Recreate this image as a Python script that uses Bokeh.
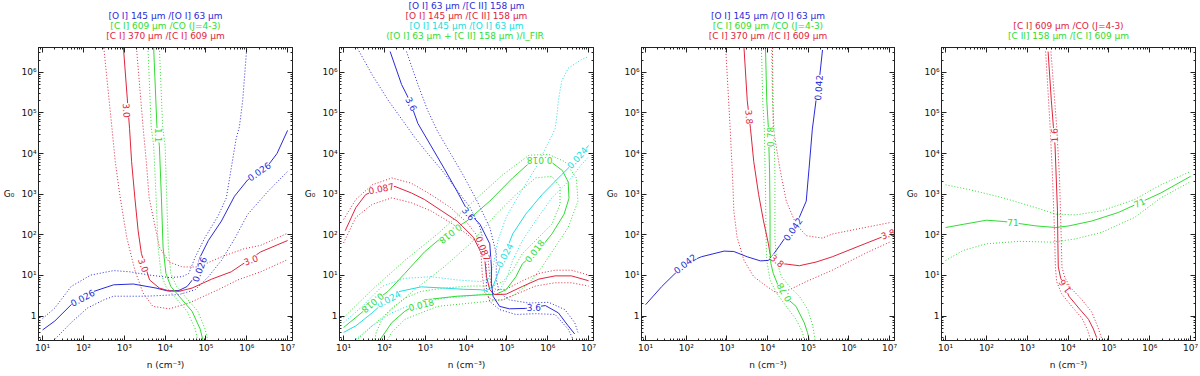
import math
from bokeh.plotting import figure
from bokeh.layouts import row
from bokeh.models import LogAxis, Title, FixedTicker, CustomJSTickFormatter, Range1d
from bokeh.core.properties import value
from bokeh.embed import file_html
from bokeh.resources import INLINE

# ---------------- data (log10 n, log10 G0) ----------------
# Panel 1
p1_blue_n = [1.0, 1.30, 1.70, 1.94, 2.26, 2.74, 3.22, 3.78, 4.06, 4.34, 4.54, 4.70, 4.86, 5.06, 5.38, 5.70, 6.02, 6.50, 6.74, 7.0]
p1_blue_g = [-0.34, -0.12, 0.28, 0.44, 0.61, 0.77, 0.79, 0.69, 0.62, 0.63, 0.73, 0.93, 1.46, 1.86, 2.34, 2.95, 3.35, 3.68, 4.00, 4.57]
p1_blue_up_n = [1.0, 1.30, 1.70, 2.18, 2.74, 3.14, 3.62, 4.10, 4.42, 4.58, 4.74, 4.98, 5.30, 5.50, 5.62, 5.74, 5.82, 5.90, 6.0]
p1_blue_up_g = [-0.06, 0.20, 0.73, 1.01, 1.12, 1.09, 1.01, 0.95, 0.97, 1.05, 1.46, 1.94, 2.47, 2.91, 3.64, 4.37, 4.66, 5.30, 6.6]
p1_blue_lo_n = [1.30, 1.70, 2.10, 2.50, 2.74, 3.54, 4.34, 4.74, 5.06, 5.38, 5.70, 6.02, 6.50, 7.0]
p1_blue_lo_g = [-0.57, -0.16, 0.20, 0.40, 0.49, 0.49, 0.53, 0.65, 0.97, 1.37, 1.90, 2.50, 3.05, 3.56]
p1_red_n = [2.98, 3.13, 3.18, 3.26, 3.34, 3.42, 3.62, 3.86, 4.10, 4.34, 4.66, 5.14, 5.62, 6.34, 7.0]
p1_red_g = [6.60, 4.61, 3.80, 2.91, 2.10, 1.54, 0.89, 0.69, 0.62, 0.61, 0.69, 0.91, 1.09, 1.58, 1.86]
p1_red_a_n = [2.50, 2.70, 2.78, 2.89, 3.06, 3.26, 3.46, 3.70, 4.10, 4.58, 5.30, 5.78, 6.34, 7.0]
p1_red_a_g = [6.60, 4.61, 3.80, 2.99, 1.94, 1.13, 0.57, 0.24, 0.18, 0.32, 0.65, 0.89, 1.09, 1.39]
p1_red_b_n = [3.30, 3.46, 3.54, 3.61, 3.86, 4.10, 4.42, 4.82, 5.38, 5.94, 6.34, 7.0]
p1_red_b_g = [6.60, 4.66, 3.80, 2.91, 1.70, 1.33, 1.21, 1.21, 1.46, 1.66, 1.74, 2.04]
p1_green_n = [3.72, 3.80, 3.86, 3.91, 3.95, 4.02, 4.14, 4.42, 4.66, 4.86, 4.93]
p1_green_g = [6.60, 4.66, 4.20, 2.91, 1.70, 1.05, 0.73, 0.40, 0.12, -0.32, -0.61]
p1_green_l_n = [3.58, 3.66, 3.72, 3.78, 3.83, 3.90, 4.02, 4.30, 4.54, 4.74, 4.80]
p1_green_r_n = [3.86, 3.94, 4.00, 4.04, 4.08, 4.14, 4.28, 4.56, 4.80, 4.98, 5.05]
p1_green_lr_g = [6.60, 4.66, 4.20, 2.91, 1.70, 1.05, 0.73, 0.40, 0.12, -0.32, -0.61]
p1_lab_text = ["0.026", "0.026", "0.026", "3.0", "3.0", "3.0", "1.1"]
p1_lab_n = [1.98, 4.84, 6.30, 3.06, 3.47, 6.10, 3.84]
p1_lab_g = [0.45, 1.15, 3.56, 5.06, 1.25, 1.38, 4.45]
p1_lab_ang = [28, 70, 35, -86, -70, 20, -90]

# Panel 2
p2_blue_n = [2.14, 2.42, 2.62, 2.82, 3.14, 3.46, 3.78, 4.06, 4.34, 4.58, 4.62, 4.62, 4.66, 4.82, 5.06, 5.46, 5.94, 6.26, 6.50, 6.66]
p2_blue_g = [6.51, 5.70, 5.30, 4.74, 4.19, 3.64, 3.07, 2.55, 2.26, 1.78, 1.21, 0.81, 0.49, 0.24, 0.18, 0.19, 0.26, 0.08, -0.24, -0.44]
p2_blue_a_n = [1.34, 1.70, 2.10, 2.50, 2.74, 3.06, 3.40, 3.74, 4.10, 4.34, 4.46, 4.49, 4.50, 4.58, 4.82, 5.22, 5.70, 6.18, 6.50, 6.62]
p2_blue_a_g = [6.59, 5.94, 5.30, 4.74, 4.40, 4.00, 3.60, 3.15, 2.67, 2.18, 1.70, 1.21, 0.65, 0.36, 0.16, 0.04, 0.06, 0.04, -0.32, -0.57]
p2_blue_b_n = [2.54, 2.82, 3.06, 3.30, 3.62, 3.94, 4.26, 4.58, 4.74, 4.74, 4.82, 5.06, 5.54, 6.02, 6.42, 6.66, 6.74]
p2_blue_b_g = [6.51, 5.70, 5.06, 4.55, 4.00, 3.45, 2.85, 2.18, 1.54, 0.89, 0.57, 0.40, 0.32, 0.34, 0.16, -0.16, -0.40]
p2_red_n = [1.04, 1.30, 1.54, 1.90, 2.26, 2.66, 2.98, 3.78, 4.18, 4.46, 4.50, 4.58, 4.70, 4.98, 5.38, 5.78, 6.18, 6.58, 7.0]
p2_red_g = [2.10, 2.67, 2.99, 3.15, 3.19, 3.03, 2.87, 2.34, 1.94, 1.37, 0.97, 0.65, 0.53, 0.54, 0.73, 0.91, 0.99, 0.99, 0.87]
p2_red_a_n = [1.0, 1.30, 1.70, 2.18, 2.66, 3.14, 3.62, 4.02, 4.30, 4.37, 4.40, 4.46, 4.62, 4.90, 5.30, 5.70, 6.18, 6.58, 7.0]
p2_red_a_g = [2.38, 2.87, 3.23, 3.40, 3.27, 2.99, 2.67, 2.30, 1.94, 1.46, 0.97, 0.57, 0.40, 0.40, 0.57, 0.74, 0.82, 0.82, 0.74]
p2_red_b_n = [1.0, 1.30, 1.70, 2.18, 2.66, 3.14, 3.62, 4.02, 4.38, 4.54, 4.58, 4.62, 4.74, 4.98, 5.38, 5.78, 6.18, 6.58, 7.0]
p2_red_b_g = [1.80, 2.43, 2.75, 2.91, 2.79, 2.59, 2.30, 2.02, 1.70, 1.37, 0.97, 0.73, 0.65, 0.66, 0.87, 1.05, 1.13, 1.13, 1.01]
p2_cyan_n = [1.0, 1.30, 1.70, 2.06, 2.34, 2.90, 3.46, 3.94, 4.34, 4.50, 4.66, 4.78, 4.94, 5.14, 5.46, 5.86, 6.34, 6.70, 7.0]
p2_cyan_g = [-0.40, -0.24, 0.08, 0.40, 0.60, 0.72, 0.69, 0.66, 0.65, 0.63, 0.73, 1.05, 1.50, 2.02, 2.51, 2.99, 3.48, 3.84, 4.20]
p2_cyan_a_n = [1.0, 1.46, 1.94, 2.50, 3.14, 3.78, 4.34, 4.54, 4.66, 4.78, 4.98, 5.30, 5.70, 6.02, 6.18, 6.22, 6.26, 6.34, 6.50, 6.82, 7.0]
p2_cyan_a_g = [-0.16, 0.24, 0.73, 0.93, 0.97, 0.89, 0.85, 0.89, 1.21, 1.86, 2.43, 2.99, 3.64, 4.28, 4.61, 4.90, 5.30, 5.78, 6.10, 6.31, 6.39]
p2_cyan_b_n = [1.30, 1.70, 2.18, 2.74, 3.46, 4.10, 4.58, 4.82, 4.98, 5.14, 5.38, 5.70, 6.10, 6.50, 6.82, 7.0]
p2_cyan_b_g = [-0.57, -0.24, 0.08, 0.32, 0.44, 0.50, 0.57, 0.65, 0.89, 1.37, 1.86, 2.34, 2.91, 3.31, 3.72, 3.92]
p2_green_n = [1.0, 1.40, 1.75, 2.10, 2.50, 2.98, 3.50, 4.02, 4.58, 5.14, 5.54, 5.80, 6.10, 6.36, 6.50, 6.52, 6.40, 6.10, 5.80, 5.38, 5.22, 4.98, 4.74, 4.50, 3.78, 2.98, 2.50, 2.18, 1.90]
p2_green_g = [-0.28, 0.05, 0.35, 0.62, 1.05, 1.58, 2.02, 2.34, 2.83, 3.40, 3.76, 3.84, 3.78, 3.58, 3.30, 2.90, 2.51, 2.02, 1.65, 1.29, 0.97, 0.65, 0.54, 0.53, 0.49, 0.40, 0.12, -0.16, -0.57]
p2_green_a_n = [1.0, 1.70, 2.50, 3.30, 4.10, 4.90, 5.54, 6.02, 6.42, 6.70, 6.74, 6.50, 6.18, 5.86, 5.54, 5.22, 4.90, 4.10, 3.30, 2.50, 2.18, 2.06]
p2_green_a_g = [-0.04, 0.65, 1.37, 2.02, 2.75, 3.48, 3.96, 3.98, 3.80, 3.40, 2.83, 2.18, 1.70, 1.21, 0.81, 0.55, 0.40, 0.32, 0.24, -0.08, -0.40, -0.61]
p2_green_b_n = [1.30, 1.70, 2.10, 2.74, 3.46, 4.10, 4.74, 5.22, 5.70, 6.10, 6.30, 6.30, 6.10, 5.70, 5.38, 5.14, 4.90, 4.66, 4.10, 3.46, 2.90, 2.50, 2.18, 1.94, 1.80, 1.76]
p2_green_b_g = [-0.61, -0.24, 0.10, 0.65, 1.21, 1.78, 2.51, 2.99, 3.40, 3.44, 3.19, 2.75, 2.26, 1.86, 1.54, 1.13, 0.85, 0.74, 0.74, 0.69, 0.61, 0.44, 0.20, -0.08, -0.40, -0.61]
p2_lab_text = ["3.6", "3.6", "3.6", "0.087", "0.087", "0.024", "0.024", "0.024", "0.018", "0.018", "0.018", "0.018", "0.018"]
p2_lab_n = [2.66, 4.06, 5.66, 1.92, 4.42, 2.10, 4.94, 6.72, 1.72, 3.62, 5.80, 5.68, 2.90]
p2_lab_g = [5.22, 2.52, 0.22, 3.14, 1.66, 0.42, 1.50, 3.90, 0.32, 2.02, 3.82, 1.60, 0.28]
p2_lab_ang = [-62, -50, 0, 12, -68, 28, 62, 48, 220, 218, 180, 52, 14]

# Panel 3
p3_blue_n = [1.0, 1.40, 1.97, 2.37, 2.93, 3.17, 3.50, 3.82, 4.02, 4.10, 4.30, 4.55, 4.78, 4.95, 4.99, 5.02, 5.10, 5.19, 5.27, 5.35]
p3_blue_g = [0.28, 0.73, 1.29, 1.46, 1.60, 1.59, 1.46, 1.36, 1.37, 1.46, 1.74, 2.10, 2.43, 2.83, 3.30, 3.64, 4.60, 5.30, 5.80, 6.55]
p3_red_n = [3.42, 3.50, 3.58, 3.66, 3.78, 3.90, 4.02, 4.06, 4.10, 4.38, 4.78, 5.19, 5.59, 6.39, 7.0]
p3_red_g = [6.60, 5.30, 4.61, 3.80, 2.99, 2.34, 1.78, 1.54, 1.41, 1.29, 1.24, 1.33, 1.46, 1.78, 2.02]
p3_red_a_n = [2.97, 3.08, 3.14, 3.17, 3.25, 3.42, 3.66, 3.98, 4.22, 4.54, 4.95, 5.59, 6.39, 7.0]
p3_red_a_g = [6.60, 4.61, 3.40, 2.59, 1.94, 1.37, 0.97, 0.73, 0.57, 0.65, 0.85, 1.13, 1.54, 1.82]
p3_red_b_n = [4.12, 4.14, 4.30, 4.46, 4.70, 4.95, 5.35, 5.59, 6.39, 7.0]
p3_red_b_g = [6.60, 4.61, 3.64, 2.83, 2.26, 1.98, 1.92, 2.02, 2.18, 2.30]
p3_green_n = [3.95, 3.98, 4.02, 4.05, 4.06, 4.06, 4.08, 4.14, 4.30, 4.46, 4.70, 4.90, 4.98, 5.03]
p3_green_g = [6.55, 5.30, 4.61, 3.50, 2.50, 1.60, 1.30, 1.05, 0.65, 0.45, 0.24, -0.16, -0.40, -0.61]
p3_green_l_n = [3.85, 3.88, 3.92, 3.94, 3.95, 3.96, 3.98, 4.06, 4.22, 4.46, 4.70, 4.86, 4.90]
p3_green_l_g = [6.55, 5.30, 4.61, 3.50, 2.99, 1.94, 1.37, 0.89, 0.57, 0.24, -0.08, -0.40, -0.61]
p3_green_r_n = [4.10, 4.12, 4.16, 4.18, 4.18, 4.18, 4.22, 4.34, 4.54, 4.78, 4.99, 5.11, 5.17]
p3_green_r_g = [6.55, 5.30, 4.61, 3.50, 2.99, 1.94, 1.37, 0.97, 0.73, 0.49, 0.16, -0.24, -0.61]
p3_best_n = [4.09]
p3_best_g = [1.42]
p3_lab_text = ["0.042", "0.042", "0.042", "3.8", "3.8", "3.8", "0.78", "0.78"]
p3_lab_n = [1.97, 4.62, 5.25, 3.55, 4.24, 6.96, 4.08, 4.40]
p3_lab_g = [1.29, 2.14, 5.62, 4.90, 1.36, 2.02, 4.41, 0.58]
p3_lab_ang = [38, 55, 86, -86, -40, 20, 90, 120]

# Panel 4
p4_red_n = [3.51, 3.59, 3.64, 3.68, 3.71, 3.74, 3.75, 3.76, 3.82, 3.92, 4.02, 4.26, 4.50, 4.62, 4.70]
p4_red_g = [6.51, 5.30, 4.66, 4.20, 3.40, 2.59, 1.78, 1.21, 0.93, 0.73, 0.49, 0.20, -0.08, -0.32, -0.53]
p4_red_l_n = [3.45, 3.56, 3.62, 3.67, 3.69, 3.72, 3.84, 4.08, 4.34, 4.48, 4.56]
p4_red_l_g = [6.51, 4.66, 3.40, 2.00, 1.20, 0.85, 0.55, 0.25, -0.05, -0.35, -0.61]
p4_red_r_n = [3.58, 3.72, 3.79, 3.83, 3.85, 3.92, 4.06, 4.34, 4.58, 4.74, 4.84]
p4_red_r_g = [6.51, 4.66, 3.40, 2.00, 1.20, 0.95, 0.70, 0.40, 0.10, -0.30, -0.61]
p4_green_n = [1.0, 1.44, 2.0, 2.41, 2.65, 3.21, 3.70, 4.02, 4.58, 5.23, 5.75, 6.27, 7.0]
p4_green_g = [2.18, 2.26, 2.36, 2.33, 2.30, 2.22, 2.18, 2.22, 2.34, 2.55, 2.79, 3.03, 3.44]
p4_green_u_n = [1.0, 1.60, 2.41, 3.21, 3.70, 4.18, 4.82, 5.63, 6.27, 7.0]
p4_green_u_g = [3.23, 3.11, 2.91, 2.67, 2.51, 2.49, 2.59, 2.87, 3.23, 3.56]
p4_green_l_n = [1.0, 1.44, 2.0, 2.81, 3.62, 4.18, 4.82, 5.63, 6.27, 7.0]
p4_green_l_g = [1.37, 1.62, 1.78, 1.84, 1.82, 1.90, 2.06, 2.43, 2.91, 3.31]
p4_lab_text = ["1.6", "1.6", "71", "71"]
p4_lab_n = [3.66, 3.92, 2.65, 5.75]
p4_lab_g = [4.45, 0.73, 2.30, 2.79]
p4_lab_ang = [92, 125, 0, 25]

# titles (top line first)
t1 = ["[O I] 145 μm /[O I] 63 μm", "[C I] 609 μm /CO (J=4-3)", "[C I] 370 μm /[C I] 609 μm"]
t2 = ["[O I] 63 μm /[C II] 158 μm", "[O I] 145 μm /[C II] 158 μm", "[O I] 145 μm /[O I] 63 μm",
      "([O I] 63 μm  + [C II] 158 μm )/I_FIR"]
t4 = ["[C I] 609 μm /CO (J=4-3)", "[C II] 158 μm /[C I] 609 μm"]

# ---------------- styling ----------------
BLUE = "#2a2ad8"
RED = "#e0243c"
GREEN = "#30dc30"
CYAN = "#20dede"
FONT = "DejaVu Sans"
H = 372

def L(a):
    return [10.0 ** v for v in a]

SUP = """
const e = Math.round(Math.log10(tick));
if (e === 0) return "1";
const s = {"0":"\u2070","1":"\u00b9","2":"\u00b2","3":"\u00b3","4":"\u2074","5":"\u2075","6":"\u2076","7":"\u2077","8":"\u2078","9":"\u2079","-":"\u207b"};
return "10" + String(e).split("").map(c => s[c]).join("");
"""

def ticker(lo, hi):
    return FixedTicker(ticks=[10.0 ** k for k in range(lo, hi + 1)],
                       minor_ticks=[m * 10.0 ** k for k in range(lo - 1, hi + 1) for m in range(2, 10)])

def style_axis(ax, labels=True):
    ax.major_tick_in = 5
    ax.major_tick_out = 0
    ax.minor_tick_in = 2
    ax.minor_tick_out = 0
    ax.axis_line_color = "#222222"
    ax.major_tick_line_color = "#222222"
    ax.minor_tick_line_color = "#222222"
    ax.major_label_text_font = FONT
    ax.major_label_text_font_size = "9px"
    ax.major_label_text_color = "#111111"
    ax.major_label_standoff = 2
    ax.axis_label_text_font = FONT
    ax.axis_label_text_font_size = "9px"
    ax.axis_label_text_font_style = "normal"
    ax.axis_label_text_color = "#111111"
    ax.axis_label_standoff = 4
    if labels:
        ax.formatter = CustomJSTickFormatter(code=SUP)
    else:
        ax.formatter = CustomJSTickFormatter(code="return '';")

def make_panel(solid, dotted, labels, titles, width, mbl, mbr, best=None):
    p = figure(width=width, height=H, x_axis_type="log", y_axis_type="log",
               x_range=Range1d(10 ** 0.9, 10 ** 7.12), y_range=Range1d(10 ** -0.6, 10 ** 6.61),
               output_backend="svg", toolbar_location=None,
               min_border_left=mbl, min_border_right=mbr, min_border_top=46, min_border_bottom=27,
               background_fill_color="white", border_fill_color="white")
    p.outline_line_color = "#222222"
    p.xgrid.visible = False
    p.ygrid.visible = False
    xa = p.xaxis[0]
    ya = p.yaxis[0]
    xa.ticker = ticker(1, 7)
    ya.ticker = ticker(0, 6)
    style_axis(xa)
    style_axis(ya)
    xa.axis_label = "n (cm\u207b\u00b3)"
    ya.axis_label = "G\u2080"
    ya.axis_label_orientation = "horizontal"
    top = LogAxis(ticker=ticker(1, 7))
    right = LogAxis(ticker=ticker(0, 6))
    style_axis(top, labels=False)
    style_axis(right, labels=False)
    top.major_label_standoff = 0
    right.major_label_standoff = 0
    top.axis_label_standoff = 0
    right.axis_label_standoff = 0
    p.add_layout(top, "above")
    p.add_layout(right, "right")

    for n, g, c in dotted:
        p.line(L(n), L(g), line_color=c, line_width=1, line_dash="1 2")
    for n, g, c in solid:
        p.line(L(n), L(g), line_color=c, line_width=1)
    if best is not None:
        p.scatter(L(best[0]), L(best[1]), marker="x", size=5, line_color="#222222", line_width=1)
    for texts, n, g, ang, c in labels:
        p.text(x=L(n), y=L(g), text=texts, angle=ang, angle_units="deg",
               text_color=c, text_font=value(FONT), text_font_size=value("9px"),
               text_align="center", text_baseline="middle",
               background_fill_color="white")

    # small gap between the frame and the lowest title line
    p.add_layout(Title(text=" ", text_font_size="4px", standoff=0), "above")
    # stack title lines outward from the frame: bottom line first
    for txt, col in reversed(titles):
        p.add_layout(Title(text=txt, text_color=col, text_font=FONT, text_font_size="9px",
                           text_font_style="normal", align="center", vertical_align="middle",
                           standoff=-2.3), "above")
    return p

def split_labels(texts, n, g, ang, colors):
    groups = {}
    for t, a, b, an, c in zip(texts, n, g, ang, colors):
        groups.setdefault(c, [[], [], [], []])
        groups[c][0].append(t); groups[c][1].append(a); groups[c][2].append(b); groups[c][3].append(an)
    return [(v[0], v[1], v[2], v[3], c) for c, v in groups.items()]

p1 = make_panel(
    solid=[(p1_blue_n, p1_blue_g, BLUE), (p1_red_n, p1_red_g, RED), (p1_green_n, p1_green_g, GREEN)],
    dotted=[(p1_blue_up_n, p1_blue_up_g, BLUE), (p1_blue_lo_n, p1_blue_lo_g, BLUE),
            (p1_red_a_n, p1_red_a_g, RED), (p1_red_b_n, p1_red_b_g, RED),
            (p1_green_l_n, p1_green_lr_g, GREEN), (p1_green_r_n, p1_green_lr_g, GREEN)],
    labels=split_labels(p1_lab_text, p1_lab_n, p1_lab_g, p1_lab_ang,
                        [BLUE, BLUE, BLUE, RED, RED, RED, GREEN]),
    titles=list(zip(t1, [BLUE, GREEN, RED])), width=301, mbl=33, mbr=9)

p2 = make_panel(
    solid=[(p2_green_n, p2_green_g, GREEN), (p2_cyan_n, p2_cyan_g, CYAN),
           (p2_red_n, p2_red_g, RED), (p2_blue_n, p2_blue_g, BLUE)],
    dotted=[(p2_green_a_n, p2_green_a_g, GREEN), (p2_green_b_n, p2_green_b_g, GREEN),
            (p2_cyan_a_n, p2_cyan_a_g, CYAN), (p2_cyan_b_n, p2_cyan_b_g, CYAN),
            (p2_red_a_n, p2_red_a_g, RED), (p2_red_b_n, p2_red_b_g, RED),
            (p2_blue_a_n, p2_blue_a_g, BLUE), (p2_blue_b_n, p2_blue_b_g, BLUE)],
    labels=split_labels(p2_lab_text, p2_lab_n, p2_lab_g, p2_lab_ang,
                        [BLUE] * 3 + [RED] * 2 + [CYAN] * 3 + [GREEN] * 5),
    titles=list(zip(t2, [BLUE, RED, CYAN, GREEN])), width=302, mbl=33, mbr=10)

p3 = make_panel(
    solid=[(p3_blue_n, p3_blue_g, BLUE), (p3_red_n, p3_red_g, RED), (p3_green_n, p3_green_g, GREEN)],
    dotted=[(p3_red_a_n, p3_red_a_g, RED), (p3_red_b_n, p3_red_b_g, RED),
            (p3_green_l_n, p3_green_l_g, GREEN), (p3_green_r_n, p3_green_r_g, GREEN)],
    labels=split_labels(p3_lab_text, p3_lab_n, p3_lab_g, p3_lab_ang,
                        [BLUE] * 3 + [RED] * 3 + [GREEN] * 2),
    titles=list(zip(t1, [BLUE, GREEN, RED])), width=300, mbl=33, mbr=9, best=(p3_best_n, p3_best_g))

p4 = make_panel(
    solid=[(p4_green_n, p4_green_g, GREEN), (p4_red_n, p4_red_g, RED)],
    dotted=[(p4_green_u_n, p4_green_u_g, GREEN), (p4_green_l_n, p4_green_l_g, GREEN),
            (p4_red_l_n, p4_red_l_g, RED), (p4_red_r_n, p4_red_r_g, RED)],
    labels=split_labels(p4_lab_text, p4_lab_n, p4_lab_g, p4_lab_ang, [RED, RED, GREEN, GREEN]),
    titles=list(zip(t4, [RED, GREEN])), width=296, mbl=34, mbr=4)

layout = row(p1, p2, p3, p4)
open("out.html", "w").write(file_html(layout, INLINE))
